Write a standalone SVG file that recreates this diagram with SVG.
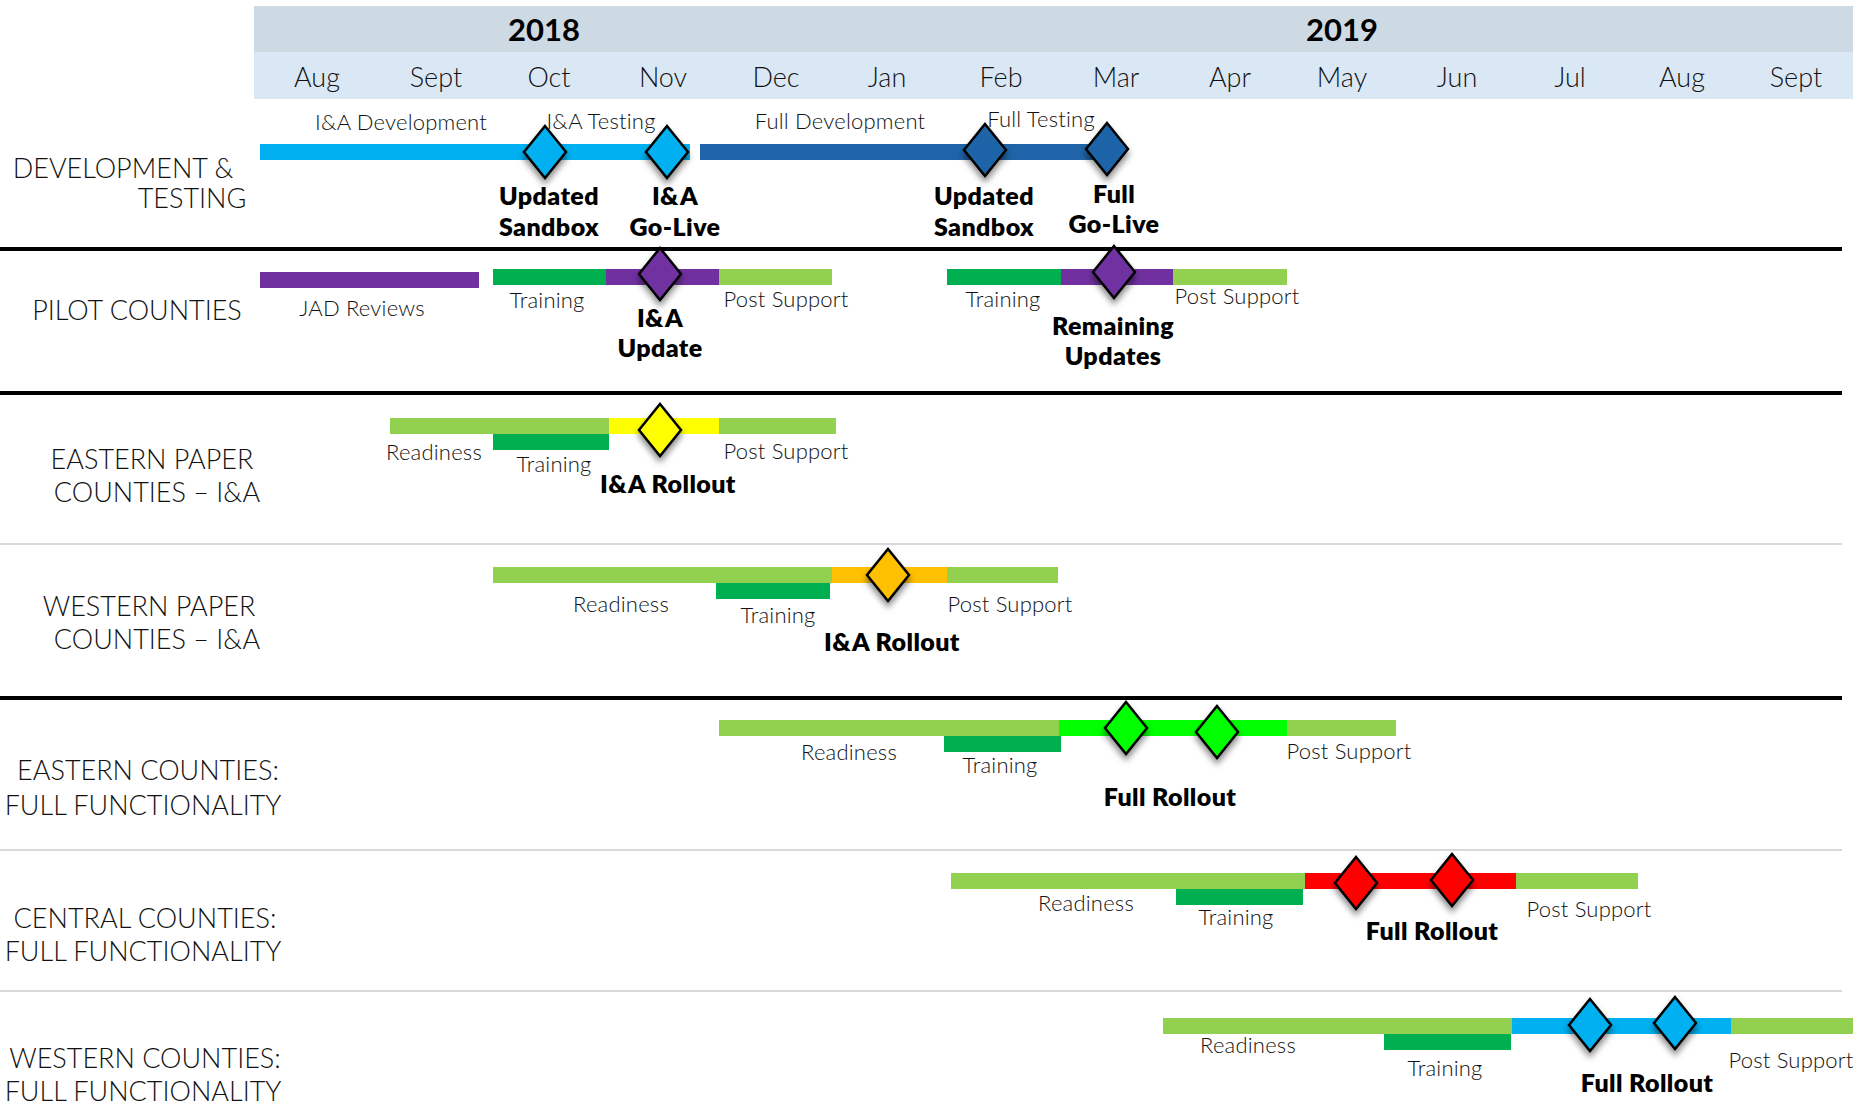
<svg xmlns="http://www.w3.org/2000/svg" xmlns:xlink="http://www.w3.org/1999/xlink" width="1859" height="1105" viewBox="0 0 1859 1105">
<style>
text{font-family:Lato,"Open Sans","DejaVu Sans",sans-serif;fill:#000}
.yr{font-size:31px;font-weight:700;text-anchor:middle}
.mo{font-size:27px;font-weight:300;text-anchor:middle;fill:#111}
.row{font-size:27px;font-weight:300;text-anchor:middle;fill:#111}
.lbl{font-size:22px;font-weight:300;text-anchor:middle;fill:#111;letter-spacing:0.2px}
.ms{font-size:25px;font-weight:800;text-anchor:middle;letter-spacing:0.4px}
.dia{stroke:#000;stroke-width:2.5;stroke-linejoin:miter;filter:url(#sh)}
.sep{stroke:#000;stroke-width:4}
.sepl{stroke:#D9D9D9;stroke-width:2}
.lg{fill:#92D050}.dg{fill:#00B050}.pu{fill:#7030A0}.lb{fill:#00B0F0}.db{fill:#1F64A8}
.ye{fill:#FFFF00}.or{fill:#FFC000}.gr{fill:#00FF00}.rd{fill:#FF0000}
</style>
<defs>
<filter id="sh" x="-50%" y="-50%" width="200%" height="200%">
<feDropShadow dx="0" dy="5" stdDeviation="3" flood-color="#000" flood-opacity="0.45"/>
</filter>
<path id="d" d="M0,-26 L21,0 L0,26 L-21,0 Z"/>
</defs>
<rect width="1859" height="1105" fill="#fff"/>

<g id="header">
<rect x="254" y="6" width="1599" height="46" fill="#CDD9E3"/>
<rect x="254" y="52" width="1599" height="47" fill="#DAE8F6"/>
<text class="yr" x="544" y="41">2018</text>
<text class="yr" x="1342" y="41">2019</text>
<text class="mo" x="317" y="87">Aug</text>
<text class="mo" x="436" y="87">Sept</text>
<text class="mo" x="549" y="87">Oct</text>
<text class="mo" x="663" y="87">Nov</text>
<text class="mo" x="776" y="87">Dec</text>
<text class="mo" x="887" y="87">Jan</text>
<text class="mo" x="1001" y="87">Feb</text>
<text class="mo" x="1116" y="87">Mar</text>
<text class="mo" x="1230" y="87">Apr</text>
<text class="mo" x="1342" y="87">May</text>
<text class="mo" x="1457" y="87">Jun</text>
<text class="mo" x="1570" y="87">Jul</text>
<text class="mo" x="1682" y="87">Aug</text>
<text class="mo" x="1796" y="87">Sept</text>
</g>

<g id="connectors">
<line class="sep" x1="0" y1="249" x2="1842" y2="249"/>
<line class="sep" x1="0" y1="393" x2="1842" y2="393"/>
<line class="sepl" x1="0" y1="544" x2="1842" y2="544"/>
<line class="sep" x1="0" y1="698" x2="1842" y2="698"/>
<line class="sepl" x1="0" y1="850" x2="1842" y2="850"/>
<line class="sepl" x1="0" y1="991" x2="1842" y2="991"/>
</g>

<g id="row-dev">
<text class="row" x="123" y="178">DEVELOPMENT &amp;</text>
<text class="row" x="192" y="208">TESTING</text>
<rect class="lb" x="260" y="144" width="430" height="16"/>
<rect class="db" x="700" y="144" width="410" height="16"/>
<text class="lbl" x="401" y="130">I&amp;A Development</text>
<text class="lbl" x="601" y="129">I&amp;A Testing</text>
<text class="lbl" x="840" y="129">Full Development</text>
<text class="lbl" x="1041" y="127">Full Testing</text>
<use xlink:href="#d" class="dia lb" x="545" y="152"/>
<use xlink:href="#d" class="dia lb" x="667" y="152"/>
<use xlink:href="#d" class="dia db" x="985" y="150"/>
<use xlink:href="#d" class="dia db" x="1107" y="149"/>
<text class="ms" x="549" y="205">Updated</text>
<text class="ms" x="549" y="236">Sandbox</text>
<text class="ms" x="675" y="205">I&amp;A</text>
<text class="ms" x="675" y="236">Go-Live</text>
<text class="ms" x="984" y="205">Updated</text>
<text class="ms" x="984" y="236">Sandbox</text>
<text class="ms" x="1114" y="203">Full</text>
<text class="ms" x="1114" y="233">Go-Live</text>
</g>

<g id="row-pilot">
<text class="row" x="137" y="320">PILOT COUNTIES</text>
<rect class="pu" x="260" y="272" width="219" height="16"/>
<text class="lbl" x="362" y="316">JAD Reviews</text>
<rect class="dg" x="493" y="269" width="113" height="16"/>
<rect class="pu" x="606" y="269" width="113" height="16"/>
<rect class="lg" x="719" y="269" width="113" height="16"/>
<use xlink:href="#d" class="dia pu" x="660" y="274"/>
<text class="lbl" x="547" y="308">Training</text>
<text class="lbl" x="786" y="307">Post Support</text>
<text class="ms" x="660" y="327">I&amp;A</text>
<text class="ms" x="660" y="357">Update</text>
<rect class="dg" x="947" y="269" width="114" height="16"/>
<rect class="pu" x="1061" y="269" width="112" height="16"/>
<rect class="lg" x="1173" y="269" width="114" height="16"/>
<use xlink:href="#d" class="dia pu" x="1114" y="272"/>
<text class="lbl" x="1003" y="307">Training</text>
<text class="lbl" x="1237" y="304">Post Support</text>
<text class="ms" x="1113" y="335">Remaining</text>
<text class="ms" x="1113" y="365">Updates</text>
</g>

<g id="row-eastern-paper">
<text class="row" x="152" y="469">EASTERN PAPER</text>
<text class="row" x="157" y="502">COUNTIES – I&amp;A</text>
<rect class="lg" x="390" y="418" width="219" height="16"/>
<rect class="ye" x="609" y="418" width="110" height="16"/>
<rect class="lg" x="719" y="418" width="117" height="16"/>
<rect class="dg" x="493" y="434" width="116" height="16"/>
<use xlink:href="#d" class="dia ye" x="660" y="430"/>
<text class="lbl" x="434" y="460">Readiness</text>
<text class="lbl" x="554" y="472">Training</text>
<text class="lbl" x="786" y="459">Post Support</text>
<text class="ms" x="668" y="493">I&amp;A Rollout</text>
</g>

<g id="row-western-paper">
<text class="row" x="149" y="616">WESTERN PAPER</text>
<text class="row" x="157" y="649">COUNTIES – I&amp;A</text>
<rect class="lg" x="493" y="567" width="339" height="16"/>
<rect class="or" x="832" y="567" width="115" height="16"/>
<rect class="lg" x="947" y="567" width="111" height="16"/>
<rect class="dg" x="716" y="583" width="114" height="16"/>
<use xlink:href="#d" class="dia or" x="888" y="575"/>
<text class="lbl" x="621" y="612">Readiness</text>
<text class="lbl" x="778" y="623">Training</text>
<text class="lbl" x="1010" y="612">Post Support</text>
<text class="ms" x="892" y="651">I&amp;A Rollout</text>
</g>

<g id="row-eastern-full">
<text class="row" x="148" y="780">EASTERN COUNTIES:</text>
<text class="row" x="143" y="815">FULL FUNCTIONALITY</text>
<rect class="lg" x="719" y="720" width="340" height="16"/>
<rect class="gr" x="1059" y="720" width="228" height="16"/>
<rect class="lg" x="1287" y="720" width="109" height="16"/>
<rect class="dg" x="944" y="736" width="117" height="16"/>
<use xlink:href="#d" class="dia gr" x="1126" y="728"/>
<use xlink:href="#d" class="dia gr" x="1217" y="732"/>
<text class="lbl" x="849" y="760">Readiness</text>
<text class="lbl" x="1000" y="773">Training</text>
<text class="lbl" x="1349" y="759">Post Support</text>
<text class="ms" x="1170" y="806">Full Rollout</text>
</g>

<g id="row-central-full">
<text class="row" x="145" y="928">CENTRAL COUNTIES:</text>
<text class="row" x="143" y="961">FULL FUNCTIONALITY</text>
<rect class="lg" x="951" y="873" width="354" height="16"/>
<rect class="rd" x="1305" y="873" width="211" height="16"/>
<rect class="lg" x="1516" y="873" width="122" height="16"/>
<rect class="dg" x="1176" y="889" width="127" height="16"/>
<use xlink:href="#d" class="dia rd" x="1356" y="883"/>
<use xlink:href="#d" class="dia rd" x="1452" y="880"/>
<text class="lbl" x="1086" y="911">Readiness</text>
<text class="lbl" x="1236" y="925">Training</text>
<text class="lbl" x="1589" y="917">Post Support</text>
<text class="ms" x="1432" y="940">Full Rollout</text>
</g>

<g id="row-western-full">
<text class="row" x="145" y="1068">WESTERN COUNTIES:</text>
<text class="row" x="143" y="1101">FULL FUNCTIONALITY</text>
<rect class="lg" x="1163" y="1018" width="349" height="16"/>
<rect class="lb" x="1512" y="1018" width="219" height="16"/>
<rect class="lg" x="1731" y="1018" width="122" height="16"/>
<rect class="dg" x="1384" y="1034" width="127" height="16"/>
<use xlink:href="#d" class="dia lb" x="1590" y="1025"/>
<use xlink:href="#d" class="dia lb" x="1675" y="1023"/>
<text class="lbl" x="1248" y="1053">Readiness</text>
<text class="lbl" x="1445" y="1076">Training</text>
<text class="lbl" x="1791" y="1068">Post Support</text>
<text class="ms" x="1647" y="1092">Full Rollout</text>
</g>
</svg>
